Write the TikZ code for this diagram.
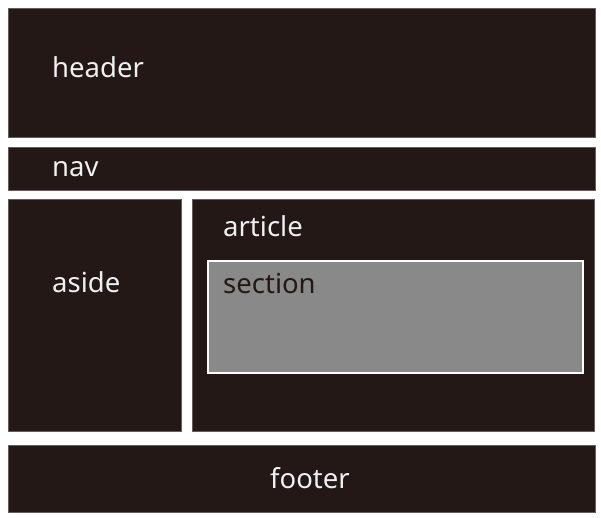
\documentclass[tikz,border=0pt]{standalone}
\usepackage{fontspec}
\setmainfont{Noto Sans}
\usepackage{tikz}
\definecolor{boxdark}{HTML}{231816}
\definecolor{boxgray}{HTML}{898989}
\tikzstyle{block}=[rectangle,fill=boxdark,draw=boxdark!70!white,line width=0.5pt,inner sep=0pt,anchor=north west]
\tikzstyle{sect}=[rectangle,fill=boxgray,draw=white,line width=2pt,inner sep=0pt,anchor=north west]
\tikzstyle{lbl}=[text=white!94!black,font=\fontsize{27.5}{32}\selectfont,inner sep=0pt]

\begin{document}
\begin{tikzpicture}[x=1pt,y=-1pt]
  \useasboundingbox[fill=white] (0,0) rectangle (601,517);

  \node[block,minimum width=587pt,minimum height=129pt] (header) at (7.5,8) {};
  \node[block,minimum width=587pt,minimum height=43pt] (nav) at (7.5,147) {};
  \node[block,minimum width=173pt,minimum height=232pt] (aside) at (7.5,199) {};
  \node[block,minimum width=402pt,minimum height=232pt] (article) at (192,199) {};
  \node[sect,minimum width=375pt,minimum height=112pt] (section) at (207,259.5) {};
  \node[block,minimum width=587pt,minimum height=67pt] (footer) at (7.5,445) {};
  %
  \node[lbl,anchor=west] (headerT) at (52,67) {header};
  \node[lbl,anchor=west] (navT) at (52,169) {nav};
  \node[lbl,anchor=west] (asideT) at (52,282) {aside};
  \node[lbl,anchor=west] (articleT) at (223,226) {article};
  \node[lbl,anchor=west,text=boxdark] (sectionT) at (223,283) {section};
  \node[lbl] (footerT) at (310,478) {footer};

\end{tikzpicture}
\end{document}
